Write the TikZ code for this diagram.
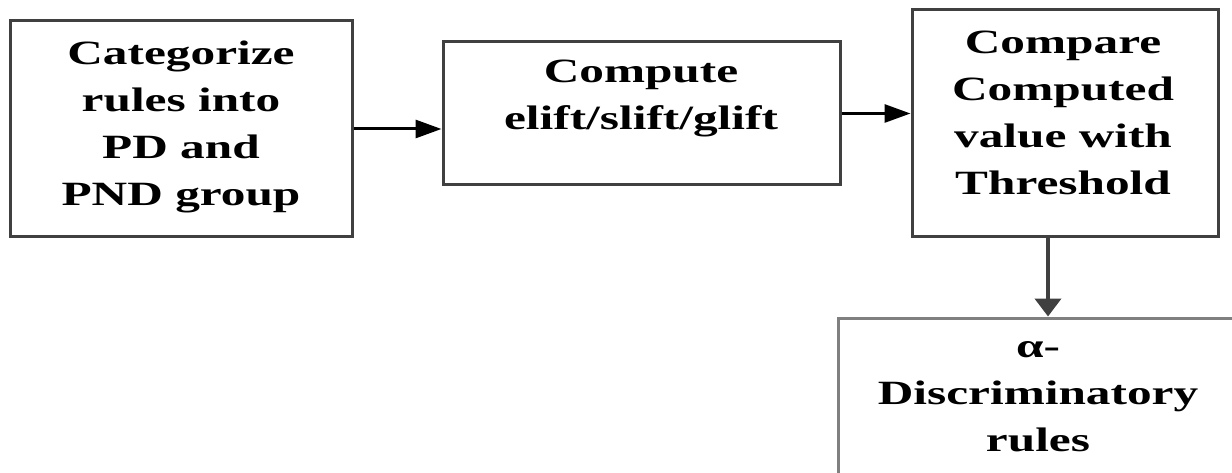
\documentclass[tikz,border=0pt]{standalone}
\usepackage{fontspec}
\setmainfont{Liberation Serif}[FakeStretch=1.45]
\usetikzlibrary{arrows.meta}
\tikzset{
  box/.style={draw=black!75, line width=3pt, fill=white, inner sep=0pt},
  lbl/.style={align=center, font=\fontsize{34}{47}\selectfont\bfseries, inner sep=0pt},
  flow/.style={line width=3pt, -{Triangle[length=26pt,width=18pt]}},
}
\begin{document}
\begin{tikzpicture}[x=1pt,y=-1pt]
  \useasboundingbox (0,0) rectangle (1232,473);
  \clip (0,0) rectangle (1232,473);
  \fill[white] (0,0) rectangle (1232,473);

  % process boxes
  \node[box, minimum width=342pt, minimum height=216pt] (b1) at (181,129) {};
  \node[box, minimum width=397pt, minimum height=143pt] (b2) at (641.5,113.5) {};
  \node[box, minimum width=306pt, minimum height=227pt] (b3) at (1065,123.5) {};
  \node[box, draw=black!50, minimum width=407pt, minimum height=172pt] (b4) at (1041.5,404) {};

  % box texts
  \node[lbl] (t1) at (181,127) {Categorize\\rules into\\PD and\\PND group};
  \node[lbl] (t2) at (641,98) {Compute\\elift/slift/glift};
  \node[lbl] (t3) at (1063,113) {Compare\\Computed\\value with\\Threshold};
  \node[lbl] (t4) at (1038,397) {α-\\Discriminatory\\rules};

  % connectors
  \draw[flow] (b1.east) -- (b2.west |- b1.east);
  \draw[flow] (b2.east) -- (b3.west |- b2.east);
  \coordinate (d) at ([xshift=-17pt]b3.south);
  \draw[line width=4pt, draw=black!75, -{Triangle[length=18pt,width=26pt]}] (d) -- (d |- b4.north);
\end{tikzpicture}
\end{document}
